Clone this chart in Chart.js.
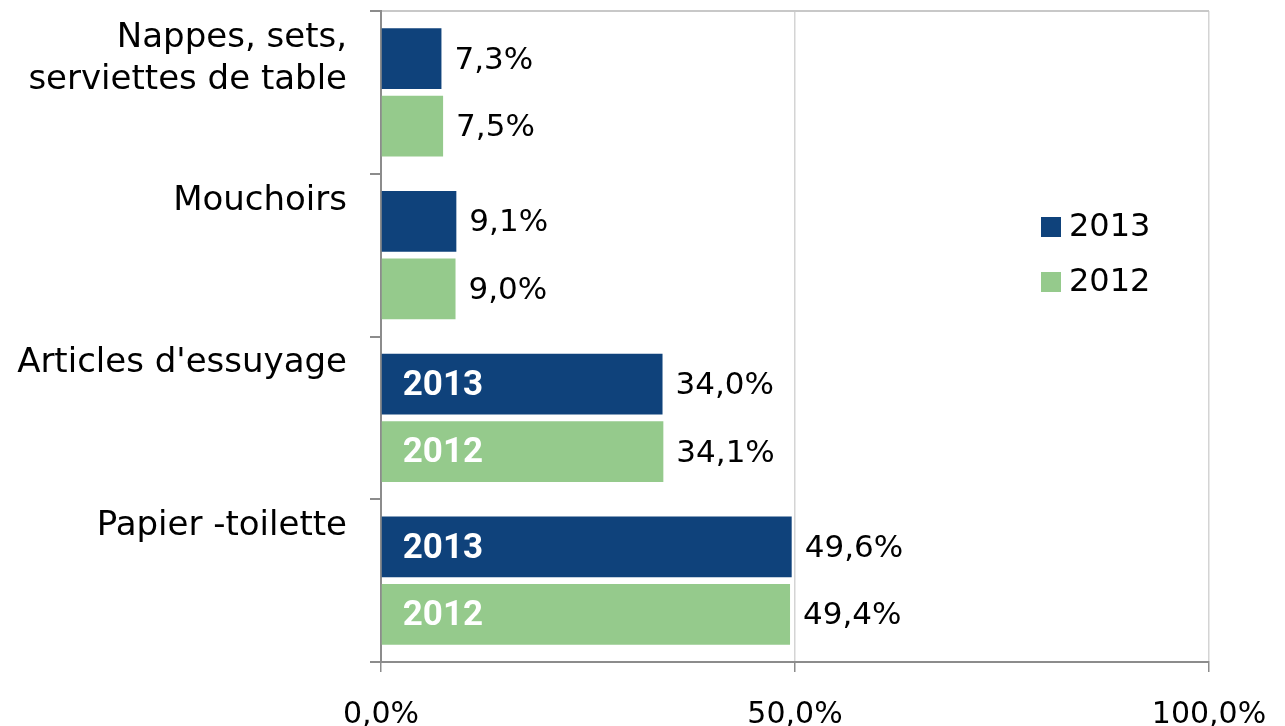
<!DOCTYPE html>
<html>
<head>
<meta charset="utf-8">
<script src="https://cdn.jsdelivr.net/npm/chart.js@4/dist/chart.umd.min.js"></script>
<style>
  html, body { margin: 0; padding: 0; background: #fff; }
  #wrap { width: 1285px; height: 726px; position: relative; }
</style>
</head>
<body>
<div id="wrap"><canvas id="c"></canvas></div>
<script>
// categories, top to bottom
const categories = [
    ['Nappes, sets,', 'serviettes de table'],
    ['Mouchoirs'],
    ["Articles d'essuyage"],
    ['Papier -toilette']
];
const seriesNames = ['2013', '2012'];
const values2013 = [7.3, 9.1, 34.0, 49.6];
const values2012 = [7.5, 9.0, 34.1, 49.4];
const xTicks = [0, 50, 100];

const colors = ['#0f427b', '#95ca8c'];
const FONT = '"DejaVu Sans", sans-serif';

const fmt = v => v.toFixed(1).replace('.', ',') + '%';

// bar value labels + year names inside the big bars
const barLabels = {
    id: 'barLabels',
    afterDatasetsDraw(chart) {
        const ctx = chart.ctx;
        ctx.save();
        chart.data.datasets.forEach((ds, di) => {
            const meta = chart.getDatasetMeta(di);
            meta.data.forEach((bar, i) => {
                const v = ds.data[i];
                ctx.fillStyle = '#000';
                ctx.font = '31px ' + FONT;
                ctx.textAlign = 'left';
                ctx.textBaseline = 'middle';
                ctx.fillText(fmt(v), bar.x + 13, bar.y + 2);
                if (v > 20) {
                    ctx.fillStyle = '#fff';
                    ctx.font = 'bold 35px Roboto, ' + FONT;
                    ctx.fillText(ds.label, bar.base + 21, bar.y + 2);
                }
            });
        });
        ctx.restore();
    }
};

// y category labels, top aligned like the original
const catLabels = {
    id: 'catLabels',
    afterDraw(chart) {
        const ctx = chart.ctx;
        const y = chart.scales.y;
        const half = (y.getPixelForValue(1) - y.getPixelForValue(0)) / 2;
        ctx.save();
        ctx.fillStyle = '#000';
        ctx.font = '34px ' + FONT;
        ctx.textAlign = 'right';
        ctx.textBaseline = 'middle';
        categories.forEach((lines, i) => {
            const top = y.getPixelForValue(i) - half;
            lines.forEach((t, k) => ctx.fillText(t, 347, top + 27 + k * 42));
        });
        ctx.restore();
    }
};

// legend inside the plot, right side
const sideLegend = {
    id: 'sideLegend',
    afterDraw(chart) {
        const ctx = chart.ctx;
        ctx.save();
        ctx.font = '32px ' + FONT;
        ctx.textBaseline = 'middle';
        ctx.textAlign = 'left';
        chart.data.datasets.forEach((ds, i) => {
            const cy = 227 + i * 55;
            ctx.fillStyle = ds.backgroundColor;
            ctx.fillRect(1041, cy - 10, 20, 20);
            ctx.fillStyle = '#000';
            ctx.fillText(ds.label, 1069, cy + 1);
        });
        ctx.restore();
    }
};

new Chart(document.getElementById('c'), {
    type: 'bar',
    data: {
        labels: categories,
        datasets: [
            { label: seriesNames[0], data: values2013, backgroundColor: colors[0] },
            { label: seriesNames[1], data: values2012, backgroundColor: colors[1] }
        ]
    },
    options: {
        indexAxis: 'y',
        responsive: true,
        maintainAspectRatio: false,
        animation: false,
        categoryPercentage: 0.83,
        barPercentage: 0.9,
        layout: { padding: { top: 11, right: 76, bottom: 0, left: 0 } },
        scales: {
            x: {
                min: 0, max: 100,
                afterBuildTicks: s => { s.ticks = xTicks.map(v => ({ value: v })); },
                afterFit: s => { s.height = 64; s.paddingLeft = 0; s.paddingRight = 0; },
                border: { color: '#8c8c8c', width: 2 },
                grid: { color: '#d4d4d4', lineWidth: 1.5, tickColor: '#8c8c8c', tickLength: 10 },
                ticks: {
                    color: '#000', font: { family: FONT, size: 30 }, padding: 25,
                    callback: v => fmt(v)
                }
            },
            y: {
                afterFit: s => { s.width = 381; s.paddingTop = 0; s.paddingBottom = 0; },
                border: { color: '#8c8c8c', width: 2 },
                grid: {
                    color: c => c.index === 0 ? '#c8c8c8' : 'rgba(0,0,0,0)',
                    lineWidth: 2, tickColor: '#8c8c8c', tickLength: 11
                },
                ticks: { display: false }
            }
        },
        plugins: { legend: { display: false }, tooltip: { enabled: false } }
    },
    plugins: [barLabels, catLabels, sideLegend]
});
</script>
</body>
</html>
